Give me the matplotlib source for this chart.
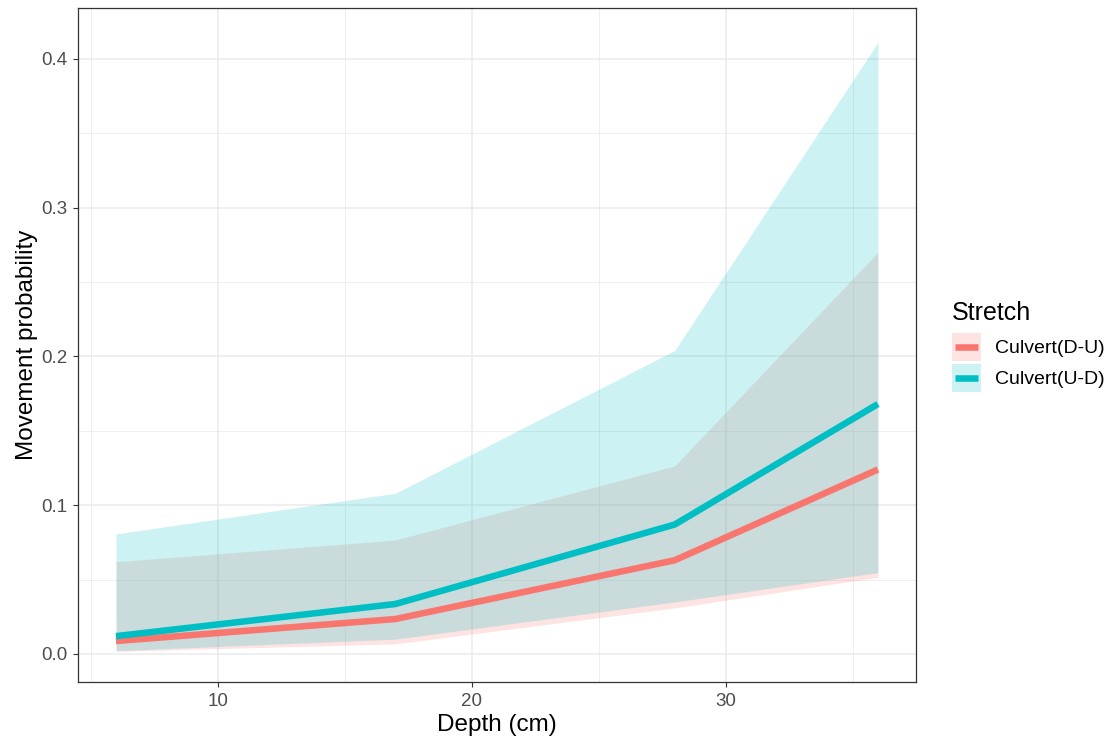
import matplotlib.pyplot as plt
from matplotlib.patches import Rectangle
from matplotlib.lines import Line2D

plt.rcParams['font.family'] = ['Liberation Sans', 'DejaVu Sans']

## data
depth = [6, 17, 28, 36]

du_fit = [0.0087, 0.0235, 0.063, 0.124]
du_lower = [0.0018, 0.0068, 0.031, 0.0516]
du_upper = [0.062, 0.0766, 0.1264, 0.270]

ud_fit = [0.012, 0.0336, 0.087, 0.168]
ud_lower = [0.0022, 0.0100, 0.035, 0.0547]
ud_upper = [0.0807, 0.108, 0.204, 0.411]

red = "#F8766D"
blue = "#00BFC4"
lw = 4.7


# legend key like ggplot: filled square with a short line across it
class KeyHandler:
    def legend_artist(self, legend, orig_handle, fontsize, handlebox):
        x0, y0 = -handlebox.xdescent, -handlebox.ydescent
        w, h = handlebox.width, handlebox.height
        c = orig_handle.get_color()
        rect = Rectangle((x0, y0), w, h, facecolor=c, alpha=0.2, edgecolor="none",
                         transform=handlebox.get_transform())
        line = Line2D([x0 + 0.1 * w, x0 + 0.9 * w], [y0 + h / 2, y0 + h / 2], color=c,
                      linewidth=lw, solid_capstyle="butt", transform=handlebox.get_transform())
        handlebox.add_artist(rect)
        handlebox.add_artist(line)
        return rect


fig = plt.figure(figsize=(11.13, 7.49), dpi=100)
ax = fig.add_axes([0.070, 0.0895, 0.753, 0.8995])

ax.fill_between(depth, du_lower, du_upper, color=red, alpha=0.2, linewidth=0)
ax.fill_between(depth, ud_lower, ud_upper, color=blue, alpha=0.2, linewidth=0)
l1, = ax.plot(depth, du_fit, color=red, linewidth=lw, solid_capstyle="butt")
l2, = ax.plot(depth, ud_fit, color=blue, linewidth=lw, solid_capstyle="butt")

ax.set_xlim(4.5, 37.5)
ax.set_ylim(-0.0188, 0.434)
ax.set_xticks([10, 20, 30])
ax.set_xticks([5, 15, 25, 35], minor=True)
ax.set_yticks([0.0, 0.1, 0.2, 0.3, 0.4])
ax.set_yticks([0.05, 0.15, 0.25, 0.35], minor=True)
ax.set_yticklabels(["0.0", "0.1", "0.2", "0.3", "0.4"])

ax.grid(which="major", color="#EBEBEB", linewidth=1.1)
ax.grid(which="minor", color="#EBEBEB", linewidth=0.6)
ax.set_axisbelow(True)
ax.tick_params(which="major", length=3.6, pad=4, color="#333333", labelsize=13.5,
               labelcolor="#4D4D4D", width=0.8)
ax.tick_params(which="minor", length=0)
for s in ax.spines.values():
    s.set_color("#333333")
    s.set_linewidth(0.9)

ax.set_xlabel("Depth (cm)", fontsize=17.5, labelpad=3)
ax.set_ylabel("Movement probability", fontsize=17.5, labelpad=2)

leg = fig.legend([l1, l2], ["Culvert(D-U)", "Culvert(U-D)"], title="Stretch",
                 loc="upper left", bbox_to_anchor=(0.855, 0.598), frameon=False,
                 fontsize=14, title_fontsize=18, handlelength=1.49, handleheight=1.84,
                 handletextpad=0.72, labelspacing=0.15, borderpad=0, borderaxespad=0,
                 handler_map={l1: KeyHandler(), l2: KeyHandler()})
leg._legend_box.align = "left"
leg._legend_box.sep = 5.7

plt.savefig("out.png", dpi=100)
